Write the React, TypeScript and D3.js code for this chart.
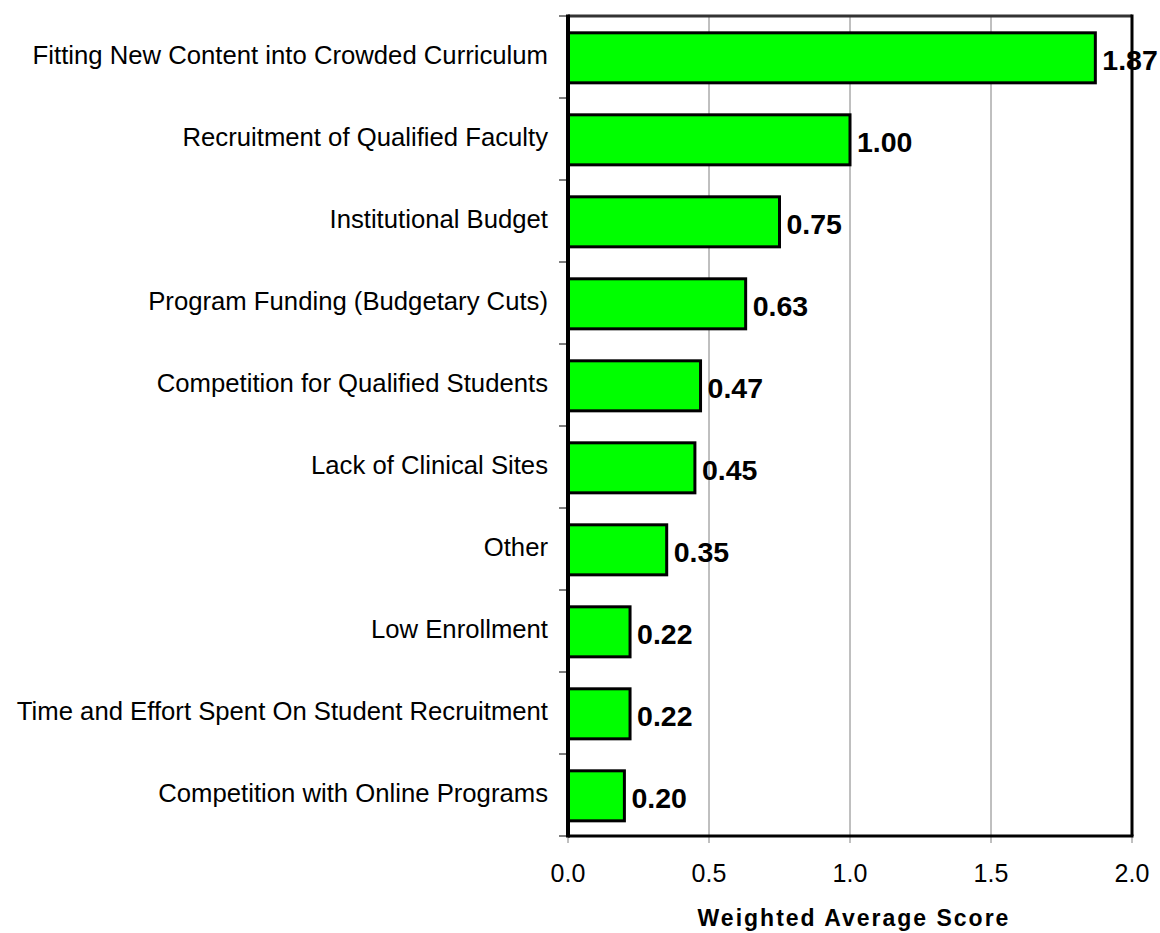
import * as d3 from "d3";
import { useRef, useEffect } from "react";

const categories = [
  "Fitting New Content into Crowded Curriculum",
  "Recruitment of Qualified Faculty",
  "Institutional Budget",
  "Program Funding (Budgetary Cuts)",
  "Competition for Qualified Students",
  "Lack of Clinical Sites",
  "Other",
  "Low Enrollment",
  "Time and Effort Spent On Student Recruitment",
  "Competition with Online Programs",
];
const scores = [1.87, 1.0, 0.75, 0.63, 0.47, 0.45, 0.35, 0.22, 0.22, 0.2];
const xTicks = [0, 0.5, 1.0, 1.5, 2.0];

const App = () => {
  const ref = useRef<SVGSVGElement>(null);

  useEffect(() => {
    const svg = d3.select(ref.current);
    svg.selectAll("*").remove();

    const left = 568;
    const right = 1132;
    const top = 16;
    const bottom = 836;
    const font = "'Liberation Sans', Arial, sans-serif";

    const x = d3.scaleLinear().domain([0, 2]).range([left, right]);
    // one band per category, bar sits inside it
    const y = d3.scaleBand().domain(categories).range([top, bottom]).padding(0);
    const step = y.step();
    const barOff = step * 0.205;
    const barH = step * 0.61;

    // gridlines
    svg.append("g")
      .selectAll("line")
      .data(xTicks.slice(1, -1))
      .join("line")
      .attr("x1", (d) => x(d))
      .attr("x2", (d) => x(d))
      .attr("y1", top)
      .attr("y2", bottom)
      .attr("stroke", "#808080")
      .attr("stroke-width", 1);

    // x tick marks
    svg.append("g")
      .selectAll("line")
      .data(xTicks)
      .join("line")
      .attr("x1", (d) => x(d))
      .attr("x2", (d) => x(d))
      .attr("y1", bottom)
      .attr("y2", bottom + 7)
      .attr("stroke", "#808080")
      .attr("stroke-width", 1);

    // y tick marks at category boundaries
    svg.append("g")
      .selectAll("line")
      .data(d3.range(categories.length + 1))
      .join("line")
      .attr("x1", left - 9)
      .attr("x2", left)
      .attr("y1", (i) => top + i * step)
      .attr("y2", (i) => top + i * step)
      .attr("stroke", "#000")
      .attr("stroke-width", 1);

    svg.append("line").attr("x1", left).attr("x2", right).attr("y1", top).attr("y2", top)
      .attr("stroke", "#333").attr("stroke-width", 3);
    svg.append("line").attr("x1", left).attr("x2", right + 1.5).attr("y1", bottom).attr("y2", bottom)
      .attr("stroke", "#000").attr("stroke-width", 3);

    // bars
    svg.append("g")
      .selectAll("rect")
      .data(scores)
      .join("rect")
      .attr("x", x(0))
      .attr("y", (d, i) => y(categories[i])! + barOff)
      .attr("width", (d) => x(d) - x(0))
      .attr("height", barH)
      .attr("fill", "#00ff00")
      .attr("stroke", "#000")
      .attr("stroke-width", 3);

    svg.append("line").attr("x1", left).attr("x2", left).attr("y1", top - 1.5).attr("y2", bottom + 1.5)
      .attr("stroke", "#000").attr("stroke-width", 4);

    // value labels
    svg.append("g")
      .selectAll("text")
      .data(scores)
      .join("text")
      .attr("x", (d) => x(d) + 7)
      .attr("y", (d, i) => y(categories[i])! + step / 2 + 12.5)
      .attr("font-family", font)
      .attr("font-size", 28.5)
      .attr("font-weight", "bold")
      .attr("fill", "#000")
      .text((d) => d.toFixed(2));

    // right border drawn over the labels
    svg.append("line").attr("x1", right).attr("x2", right).attr("y1", top - 1.5).attr("y2", bottom)
      .attr("stroke", "#000").attr("stroke-width", 3);

    // category labels
    svg.append("g")
      .selectAll("text")
      .data(categories)
      .join("text")
      .attr("x", 548)
      .attr("y", (d) => y(d)! + step / 2 + 7)
      .attr("text-anchor", "end")
      .attr("font-family", font)
      .attr("font-size", 25.7)
      .attr("fill", "#000")
      .text((d) => d);

    // x tick labels
    svg.append("g")
      .selectAll("text")
      .data(xTicks)
      .join("text")
      .attr("x", (d) => x(d))
      .attr("y", bottom + 46)
      .attr("text-anchor", "middle")
      .attr("font-family", font)
      .attr("font-size", 25)
      .attr("fill", "#000")
      .text((d) => d.toFixed(1));

    svg.append("text")
      .attr("x", x(1) + 4)
      .attr("y", 926)
      .attr("text-anchor", "middle")
      .attr("font-family", font)
      .attr("font-size", 23)
      .attr("font-weight", "bold")
      .attr("letter-spacing", 2)
      .attr("fill", "#000")
      .text("Weighted Average Score");
  }, []);

  return <svg ref={ref} width={1160} height={933} style={{ position: "absolute", left: 0, top: 0 }} />;
};

export default App;
